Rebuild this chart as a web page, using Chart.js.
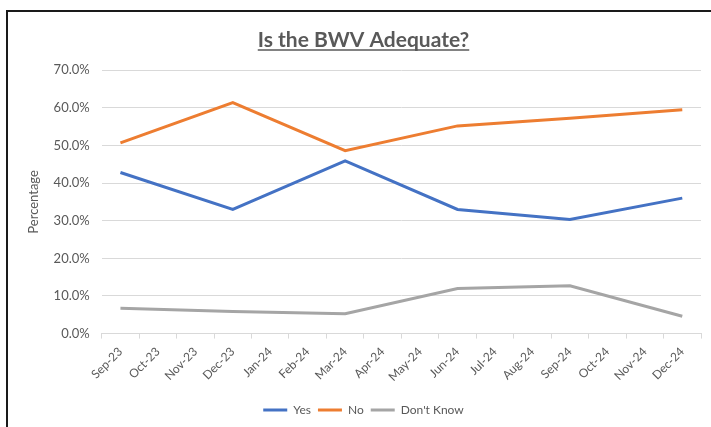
<!DOCTYPE html>
<html>
<head>
<meta charset="utf-8">
<script src="https://cdn.jsdelivr.net/npm/chart.js@4.4.1/dist/chart.umd.min.js"></script>
<style>
  body { margin: 0; background: #fff; }
  #wrap { position: absolute; left: 0; top: 0; width: 711px; height: 427px; }
  #frame { position: absolute; left: 6px; top: 10px; width: 705px; height: 417px;
           border-top: 2px solid #1a1a1a; border-left: 2px solid #1a1a1a; box-sizing: border-box; }
  canvas { position: absolute; left: 0; top: 0; }
</style>
</head>
<body>
<div id="wrap">
  <div id="frame"></div>
  <canvas id="chart" width="711" height="427"></canvas>
</div>
<script>
const months = ['Sep-23', 'Oct-23', 'Nov-23', 'Dec-23', 'Jan-24', 'Feb-24', 'Mar-24', 'Apr-24',
                'May-24', 'Jun-24', 'Jul-24', 'Aug-24', 'Sep-24', 'Oct-24', 'Nov-24', 'Dec-24'];

// survey only every quarter, other months empty
const yesVals = [42.8, null, null, 33.0, null, null, 45.9, null, null, 33.0, null, null, 30.3, null, null, 36.0];
const noVals = [50.7, null, null, 61.4, null, null, 48.6, null, null, 55.2, null, null, 57.2, null, null, 59.5];
const dontKnowVals = [6.7, null, null, 5.9, null, null, 5.3, null, null, 12.0, null, null, 12.7, null, null, 4.6];

const textColor = '#595959';
const gridColor = '#d9d9d9';
const fontFamily = 'Lato, "Open Sans", sans-serif';
const titleSize = 21;

// Chart.js can't underline a title, so draw the line under it ourselves
const underlineTitle = {
    id: 'underlineTitle',
    afterDraw(chart) {
        const t = chart.titleBlock;
        if (!t) return;
        const ctx = chart.ctx;
        ctx.save();
        ctx.font = 'bold ' + titleSize + 'px ' + fontFamily;
        const w = ctx.measureText(chart.options.plugins.title.text).width;
        const cx = (t.left + t.right) / 2;
        const y = t.top + t.options.padding.top + titleSize + 1;
        ctx.strokeStyle = textColor;
        ctx.lineWidth = 1.5;
        ctx.beginPath();
        ctx.moveTo(cx - w / 2, y);
        ctx.lineTo(cx + w / 2, y);
        ctx.stroke();
        ctx.restore();
    }
};

function series(label, data, color) {
    return {
        label: label,
        data: data,
        borderColor: color,
        backgroundColor: color,
        borderWidth: 3,
        pointRadius: 0,
        pointStyle: 'line',
        spanGaps: true,
        tension: 0
    };
}

new Chart(document.getElementById('chart').getContext('2d'), {
    type: 'line',
    data: {
        labels: months,
        datasets: [
            series('Yes', yesVals, '#4472C4'),
            series('No', noVals, '#ED7D31'),
            series("Don't Know", dontKnowVals, '#A5A5A5')
        ]
    },
    options: {
        responsive: false,
        animation: false,
        layout: { padding: { left: 26, right: 10, top: 26, bottom: 1 } },
        plugins: {
            title: {
                display: true,
                text: 'Is the BWV Adequate?',
                color: textColor,
                font: { family: fontFamily, size: titleSize, weight: 'bold' },
                padding: { top: 2, bottom: 17 }
            },
            legend: {
                position: 'bottom',
                labels: {
                    color: textColor,
                    font: { family: fontFamily, size: 12 },
                    usePointStyle: true,
                    pointStyleWidth: 24,
                    padding: 7
                }
            },
            tooltip: { enabled: false }
        },
        scales: {
            x: {
                offset: true,
                grid: { display: true, drawOnChartArea: false, offset: true, color: gridColor, tickLength: 5 },
                border: { color: gridColor },
                ticks: {
                    color: textColor,
                    font: { family: fontFamily, size: 12 },
                    autoSkip: false,
                    maxRotation: 45,
                    minRotation: 45,
                    padding: 6
                },
                // keep the gap between the axis labels and the legend
                afterFit: scale => { scale.height += 7; }
            },
            y: {
                min: 0,
                max: 70,
                grid: { color: gridColor, drawTicks: false, lineWidth: 1 },
                border: { display: false },
                ticks: {
                    stepSize: 10,
                    color: textColor,
                    font: { family: fontFamily, size: 13 },
                    padding: 12,
                    callback: v => v.toFixed(1) + '%'
                },
                title: {
                    display: true,
                    text: 'Percentage',
                    color: textColor,
                    font: { family: fontFamily, size: 13 },
                    padding: { top: 0, bottom: 0 }
                }
            }
        }
    },
    plugins: [underlineTitle]
});
</script>
</body>
</html>
